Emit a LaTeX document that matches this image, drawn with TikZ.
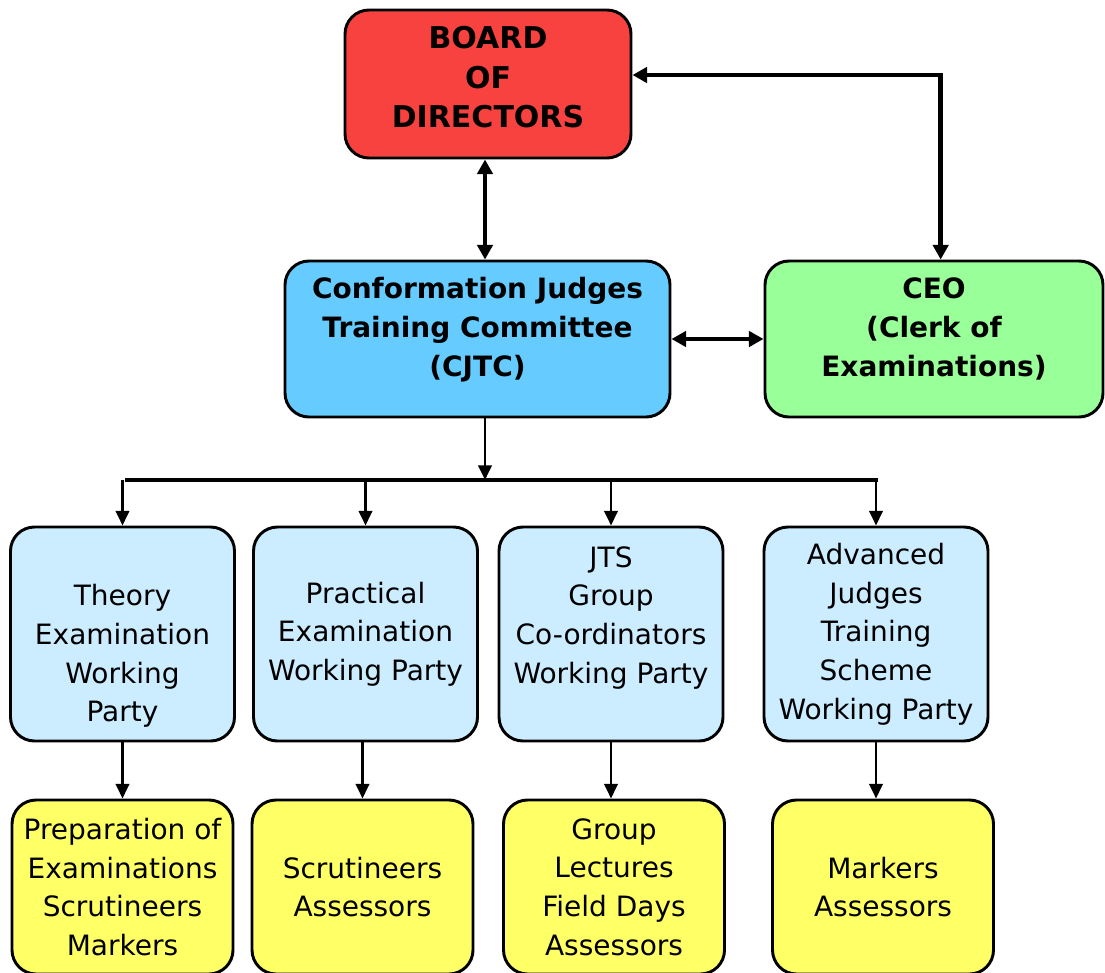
\documentclass[tikz,border=0pt]{standalone}
\usepackage{fontspec}
\setmainfont{DejaVu Sans}
\usetikzlibrary{arrows.meta}
\definecolor{boardred}{HTML}{F84240}
\definecolor{cjtcblue}{HTML}{66CCFF}
\definecolor{ceogreen}{HTML}{99FF99}
\definecolor{partyblue}{HTML}{CCECFF}
\definecolor{taskyellow}{HTML}{FFFF66}
\begin{document}
\begin{tikzpicture}[x=0.75pt,y=-0.75pt,
  box/.style={draw=black,line width=2.2pt,rounded corners=18pt,align=center,inner sep=0pt,
    font=\fontsize{21}{29}\selectfont},
  headbox/.style={box,font=\bfseries\fontsize{21}{29}\selectfont,minimum height=117pt,text depth=18pt},
  partybox/.style={box,fill=partyblue,minimum width=168pt,minimum height=160.5pt},
  taskbox/.style={box,fill=taskyellow,minimum width=165.75pt,minimum height=130.5pt},
  bigarr/.style={line width=3.4pt,{Triangle[length=11pt,width=11.5pt]}-{Triangle[length=11pt,width=11.5pt]}},
  downarr/.style={line width=2.2pt,-{Triangle[length=11pt,width=10pt]}},
  busline/.style={line width=2.6pt}]
 \useasboundingbox (0,0) rectangle (1105,972);
 % top level
 \node[box,fill=boardred,minimum width=214.5pt,minimum height=111pt,text depth=10.5pt,
   font=\bfseries\fontsize{22.5}{29.5}\selectfont] (board) at (488,84) {BOARD\\OF\\DIRECTORS};
 \node[headbox,fill=cjtcblue,minimum width=288.75pt] (cjtc) at (477.5,339)
   {Conformation Judges\\Training Committee\\(CJTC)};
 \node[headbox,fill=ceogreen,minimum width=253.5pt] (ceo) at (934,339)
   {CEO\\(Clerk of\\Examinations)};
 % working parties
 \node[partybox] (theory) at (122.5,634) {\strut\\Theory\\Examination\\Working\\Party};
 \node[partybox] (practical) at (365.5,634) {Practical\\Examination\\Working Party};
 \node[partybox] (jts) at (611,634) {JTS\\Group\\Co-ordinators\\Working Party\\\mbox{}};
 \node[partybox] (advanced) at (876,634) {Advanced\\Judges\\Training\\Scheme\\Working Party};
 % tasks
 \node[taskbox] (prep) at (122.5,887) {Preparation of\\Examinations\\Scrutineers\\Markers};
 \node[taskbox] (scrut) at (362.5,887) {Scrutineers\\Assessors};
 \node[taskbox] (group) at (614,887) {Group\\Lectures\\Field Days\\Assessors};
 \node[taskbox] (mark) at (883,887) {Markers\\Assessors};
 % connectors
 \coordinate (bus) at (485,480);
 \draw[bigarr] (board.south -| bus) -- (cjtc.north -| bus);
 \draw[bigarr] ([yshift=6.75pt]board.east) -| ([xshift=5pt]ceo.north);
 \draw[bigarr] (cjtc.east) -- (ceo.west);
 \draw[downarr] (cjtc.south -| bus) -- (bus);
 \draw[busline] ([xshift=2pt]theory.north |- bus) -- ([xshift=1.5pt]advanced.north |- bus);
 \foreach \p in {theory,practical,jts,advanced}
   \draw[downarr] (\p.north |- bus) -- (\p.north);
 \draw[downarr] (theory.south) -- (theory.south |- prep.north);
 \draw[downarr] (practical.south -| scrut.north) -- (scrut.north);
 \draw[downarr] (jts.south) -- (jts.south |- group.north);
 \draw[downarr] (advanced.south) -- (advanced.south |- mark.north);
\end{tikzpicture}
\end{document}
